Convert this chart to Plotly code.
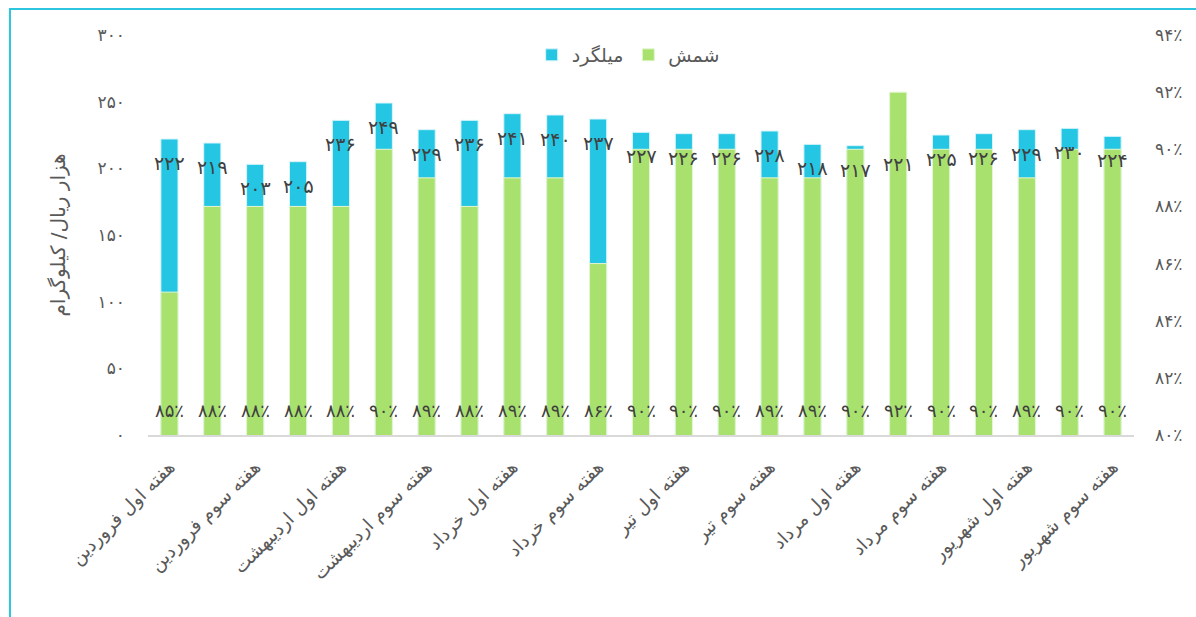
import plotly.graph_objects as go

# weekly categories (Farvardin .. 3rd week of Shahrivar)
weeks = [
    'هفته اول فروردین', 'هفته دوم فروردین', 'هفته سوم فروردین', 'هفته چهارم فروردین',
    'هفته اول اردیبهشت', 'هفته دوم اردیبهشت', 'هفته سوم اردیبهشت', 'هفته چهارم اردیبهشت',
    'هفته اول خرداد', 'هفته دوم خرداد', 'هفته سوم خرداد', 'هفته چهارم خرداد',
    'هفته اول تیر', 'هفته دوم تیر', 'هفته سوم تیر', 'هفته چهارم تیر',
    'هفته اول مرداد', 'هفته دوم مرداد', 'هفته سوم مرداد', 'هفته چهارم مرداد',
    'هفته اول شهریور', 'هفته دوم شهریور', 'هفته سوم شهریور',
]
rebar_price = [222, 219, 203, 205, 236, 249, 229, 236, 241, 240, 237, 227,
               226, 226, 228, 218, 217, 221, 225, 226, 229, 230, 224]
ingot_share = [85, 88, 88, 88, 88, 90, 89, 88, 89, 89, 86, 90,
               90, 90, 89, 89, 90, 92, 90, 90, 89, 90, 90]
price_ticks = [0, 50, 100, 150, 200, 250, 300]
share_ticks = [80, 82, 84, 86, 88, 90, 92, 94]
shown_weeks = weeks[::2]

FA = str.maketrans('0123456789', '۰۱۲۳۴۵۶۷۸۹')


def fa(n):
    return str(n).translate(FA)


FONT = 'DejaVu Sans'
GRAY = '#595959'
CYAN = '#24C6E3'
GREEN = '#A9E16F'

fig = go.Figure()
fig.add_trace(go.Bar(x=weeks, y=rebar_price, name='میلگرد',
                     marker=dict(color=CYAN, line=dict(color='#D8F4FA', width=1))))
fig.add_trace(go.Bar(x=weeks, y=ingot_share, name='شمش', yaxis='y2',
                     marker=dict(color=GREEN, line=dict(color='#E4F6D2', width=1))))

# value labels
for w, p, s in zip(weeks, rebar_price, ingot_share):
    fig.add_annotation(x=w, y=p, yref='y', text=fa(p), showarrow=False,
                       yshift=-24, font=dict(family=FONT, size=19, color='#404040'))
    fig.add_annotation(x=w, y=0, yref='y', text=fa(s) + '٪', showarrow=False,
                       yshift=25, font=dict(family=FONT, size=18, color='#404040'))

# chart-area border (top and left visible)
fig.add_shape(type='rect', xref='paper', yref='paper',
              x0=-0.140, x1=1.3, y0=-1.0, y1=1.065,
              line=dict(color='#2CC4DE', width=2), layer='above')

fig.update_layout(
    width=1196, height=617,
    margin=dict(l=148, r=62, t=35, b=182),
    paper_bgcolor='white', plot_bgcolor='white',
    barmode='overlay', bargap=0.6,
    font=dict(family=FONT, color=GRAY),
    showlegend=True,
    legend=dict(orientation='h', x=0.487, xanchor='center', y=0.95, yanchor='middle',
                font=dict(size=19, color=GRAY), bgcolor='rgba(0,0,0,0)'),
    xaxis=dict(tickmode='array', tickvals=shown_weeks, ticktext=shown_weeks,
               tickangle=-45, tickfont=dict(size=18.5, color=GRAY), automargin=False,
               showline=True, linecolor='#D9D9D9', linewidth=1.5,
               showgrid=False, ticks='', ticklabelstandoff=12),
    yaxis=dict(range=[0, 300], tickmode='array', tickvals=price_ticks,
               ticktext=[fa(v) for v in price_ticks], showgrid=False, zeroline=False,
               tickfont=dict(size=17, color=GRAY), ticklabelstandoff=22, automargin=False,
               title=dict(text='هزار ریال/ کیلوگرام', font=dict(size=20, color=GRAY),
                          standoff=26)),
    yaxis2=dict(range=[80, 94], overlaying='y', side='right', tickmode='array',
                tickvals=share_ticks, ticktext=[fa(v) + '٪' for v in share_ticks],
                showgrid=False, zeroline=False, tickfont=dict(size=17, color=GRAY),
                ticklabelstandoff=20, automargin=False),
)

fig.write_html('out.html', config={'displayModeBar': False},
               post_script="document.body.style.margin='0';")
